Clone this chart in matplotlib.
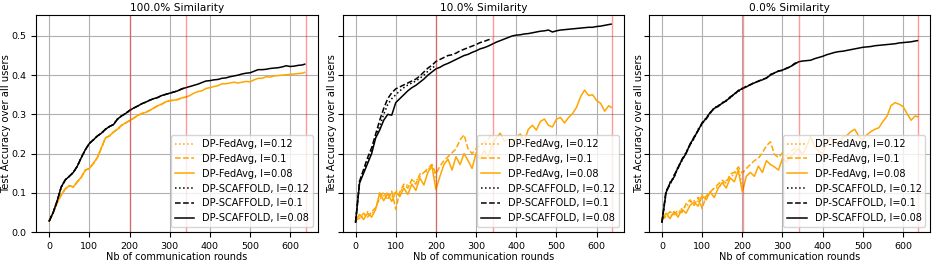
import matplotlib
matplotlib.use("Agg")
import matplotlib.pyplot as plt

rounds_l008 = list(range(0, 640, 10)) + [636]
rounds_l010 = list(range(0, 341, 10))
rounds_l012 = list(range(0, 201, 10))
budget_ends = [201, 341, 638]

titles = ['100.0% Similarity', '10.0% Similarity', '0.0% Similarity']

# ---- 100% similarity
fa_100_l008 = [0.028, 0.05, 0.075, 0.095, 0.11, 0.118, 0.115, 0.128, 0.14, 0.158,
               0.162, 0.175, 0.19, 0.215, 0.24, 0.245, 0.255, 0.262, 0.272, 0.278,
               0.284, 0.29, 0.297, 0.302, 0.305, 0.31, 0.316, 0.322, 0.326, 0.332,
               0.335, 0.336, 0.338, 0.342, 0.344, 0.348, 0.354, 0.358, 0.36, 0.366,
               0.368, 0.371, 0.373, 0.378, 0.378, 0.38, 0.382, 0.38, 0.382, 0.384,
               0.383, 0.388, 0.392, 0.392, 0.396, 0.395, 0.398, 0.399, 0.4, 0.401,
               0.402, 0.403, 0.404, 0.405, 0.407]
fa_100_l010 = fa_100_l008[:35]
fa_100_l012 = fa_100_l008[:21]
sc_100_l008 = [0.028, 0.05, 0.08, 0.115, 0.133, 0.142, 0.152, 0.168, 0.19, 0.21,
               0.226, 0.235, 0.245, 0.252, 0.262, 0.269, 0.274, 0.288, 0.296, 0.302,
               0.31, 0.316, 0.321, 0.327, 0.331, 0.336, 0.34, 0.343, 0.348, 0.351,
               0.354, 0.357, 0.36, 0.365, 0.368, 0.371, 0.374, 0.377, 0.381, 0.385,
               0.386, 0.388, 0.389, 0.392, 0.393, 0.396, 0.398, 0.4, 0.403, 0.405,
               0.406, 0.41, 0.414, 0.414, 0.415, 0.417, 0.418, 0.419, 0.421, 0.424,
               0.422, 0.423, 0.425, 0.426, 0.428]
sc_100_l010 = sc_100_l008[:35]
sc_100_l012 = sc_100_l008[:21]

# ---- 10% similarity
fa_10_l008 = [0.03, 0.045, 0.032, 0.048, 0.038, 0.058, 0.1, 0.08, 0.098, 0.078,
              0.102, 0.09, 0.112, 0.096, 0.122, 0.106, 0.138, 0.12, 0.152, 0.168,
              0.108, 0.142, 0.172, 0.186, 0.158, 0.192, 0.172, 0.2, 0.182, 0.162,
              0.202, 0.186, 0.208, 0.192, 0.222, 0.24, 0.252, 0.232, 0.236, 0.222,
              0.242, 0.25, 0.232, 0.262, 0.272, 0.26, 0.282, 0.288, 0.272, 0.268,
              0.288, 0.292, 0.278, 0.292, 0.302, 0.318, 0.345, 0.362, 0.348, 0.35,
              0.335, 0.328, 0.308, 0.322, 0.318]
fa_10_l010 = [0.03, 0.035, 0.048, 0.038, 0.052, 0.062, 0.088, 0.102, 0.082, 0.104,
              0.058, 0.102, 0.122, 0.112, 0.134, 0.122, 0.148, 0.152, 0.162, 0.172,
              0.148, 0.168, 0.182, 0.192, 0.202, 0.212, 0.235, 0.248, 0.212, 0.2,
              0.212, 0.222, 0.228, 0.236, 0.25]
fa_10_l012 = [0.03, 0.042, 0.038, 0.052, 0.044, 0.062, 0.084, 0.092, 0.1, 0.088,
              0.106, 0.098, 0.118, 0.12, 0.128, 0.13, 0.142, 0.152, 0.156, 0.175,
              0.13]
sc_10_l008 = [0.025, 0.125, 0.15, 0.175, 0.2, 0.24, 0.26, 0.285, 0.3, 0.298,
              0.33, 0.34, 0.35, 0.36, 0.368, 0.374, 0.382, 0.39, 0.4, 0.408,
              0.416, 0.42, 0.426, 0.43, 0.435, 0.44, 0.445, 0.45, 0.453, 0.458,
              0.462, 0.467, 0.47, 0.474, 0.479, 0.484, 0.488, 0.492, 0.496, 0.5,
              0.502, 0.503, 0.505, 0.506, 0.508, 0.51, 0.512, 0.513, 0.515, 0.51,
              0.513, 0.515, 0.516, 0.517, 0.518, 0.519, 0.52, 0.521, 0.522, 0.522,
              0.524, 0.525, 0.527, 0.529, 0.53]
sc_10_l010 = [0.025, 0.13, 0.16, 0.19, 0.215, 0.25, 0.285, 0.315, 0.34, 0.355,
              0.365, 0.37, 0.375, 0.38, 0.385, 0.39, 0.398, 0.408, 0.418, 0.425,
              0.435, 0.44, 0.445, 0.45, 0.452, 0.456, 0.462, 0.466, 0.47, 0.474,
              0.478, 0.483, 0.486, 0.49, 0.493]
sc_10_l012 = [0.025, 0.13, 0.155, 0.18, 0.21, 0.245, 0.27, 0.3, 0.325, 0.34,
              0.35, 0.36, 0.368, 0.375, 0.38, 0.385, 0.392, 0.4, 0.41, 0.418,
              0.425]

# ---- 0% similarity
fa_0_l008 = [0.03, 0.048, 0.034, 0.052, 0.038, 0.058, 0.048, 0.068, 0.076, 0.066,
             0.092, 0.082, 0.102, 0.088, 0.112, 0.126, 0.112, 0.138, 0.128, 0.158,
             0.102, 0.142, 0.152, 0.142, 0.168, 0.152, 0.182, 0.172, 0.166, 0.158,
             0.188, 0.178, 0.192, 0.202, 0.212, 0.198, 0.218, 0.243, 0.218, 0.206,
             0.2, 0.228, 0.24, 0.228, 0.226, 0.242, 0.246, 0.256, 0.262, 0.244,
             0.235, 0.248, 0.256, 0.262, 0.266, 0.282, 0.295, 0.322, 0.33, 0.326,
             0.32, 0.302, 0.285, 0.296, 0.294]
fa_0_l010 = [0.03, 0.04, 0.052, 0.044, 0.056, 0.05, 0.072, 0.082, 0.068, 0.088,
             0.06, 0.092, 0.102, 0.112, 0.122, 0.132, 0.124, 0.148, 0.152, 0.166,
             0.15, 0.162, 0.172, 0.182, 0.188, 0.202, 0.22, 0.23, 0.198, 0.19,
             0.202, 0.194, 0.206, 0.212, 0.215]
fa_0_l012 = [0.03, 0.042, 0.038, 0.052, 0.044, 0.062, 0.064, 0.077, 0.08, 0.078,
             0.096, 0.088, 0.102, 0.112, 0.114, 0.122, 0.132, 0.142, 0.146, 0.162,
             0.12]
sc_0_l008 = [0.025, 0.1, 0.125, 0.14, 0.165, 0.184, 0.2, 0.225, 0.24, 0.26,
             0.277, 0.29, 0.305, 0.315, 0.322, 0.328, 0.335, 0.343, 0.352, 0.36,
             0.366, 0.37, 0.376, 0.38, 0.385, 0.388, 0.393, 0.4, 0.406, 0.41,
             0.413, 0.417, 0.422, 0.428, 0.434, 0.436, 0.437, 0.438, 0.442, 0.445,
             0.448, 0.452, 0.455, 0.458, 0.46, 0.461, 0.463, 0.465, 0.467, 0.469,
             0.471, 0.472, 0.473, 0.475, 0.476, 0.477, 0.478, 0.479, 0.48, 0.482,
             0.483, 0.484, 0.485, 0.487, 0.488]
sc_0_l010 = [0.025, 0.105, 0.12, 0.145, 0.162, 0.186, 0.202, 0.222, 0.243, 0.258,
             0.279, 0.288, 0.303, 0.316, 0.32, 0.33, 0.334, 0.345, 0.35, 0.361,
             0.365, 0.372, 0.375, 0.382, 0.384, 0.39, 0.392, 0.402, 0.405, 0.411,
             0.412, 0.418, 0.421, 0.43, 0.433]
sc_0_l012 = [0.025, 0.098, 0.127, 0.138, 0.167, 0.182, 0.203, 0.223, 0.238, 0.262,
             0.275, 0.292, 0.303, 0.317, 0.321, 0.329, 0.336, 0.342, 0.353, 0.358,
             0.367]

panels = [
    (fa_100_l012, fa_100_l010, fa_100_l008, sc_100_l012, sc_100_l010, sc_100_l008),
    (fa_10_l012, fa_10_l010, fa_10_l008, sc_10_l012, sc_10_l010, sc_10_l008),
    (fa_0_l012, fa_0_l010, fa_0_l008, sc_0_l012, sc_0_l010, sc_0_l008),
]

plt.rcParams['font.size'] = 7
plt.rcParams['xtick.labelsize'] = 6.8
plt.rcParams['ytick.labelsize'] = 6.8

fig, axes = plt.subplots(1, 3, figsize=(9.34, 2.61), dpi=100, sharey=True)
fig.subplots_adjust(left=0.039, right=0.996, top=0.942, bottom=0.111, wspace=0.09)

for ax, title, series in zip(axes, titles, panels):
    fa12, fa10, fa08, sc12, sc10, sc08 = series
    ax.plot(rounds_l012, fa12, color='orange', ls=':', lw=1.1, label='DP-FedAvg, l=0.12')
    ax.plot(rounds_l010, fa10, color='orange', ls='--', lw=1.1, label='DP-FedAvg, l=0.1')
    ax.plot(rounds_l008, fa08, color='orange', ls='-', lw=1.1, label='DP-FedAvg, l=0.08')
    ax.plot(rounds_l012, sc12, color='black', ls=':', lw=1.1, label='DP-SCAFFOLD, l=0.12')
    ax.plot(rounds_l010, sc10, color='black', ls='--', lw=1.1, label='DP-SCAFFOLD, l=0.1')
    ax.plot(rounds_l008, sc08, color='black', ls='-', lw=1.1, label='DP-SCAFFOLD, l=0.08')
    for xe in budget_ends:
        ax.axvline(xe, color='red', alpha=0.4, lw=1)
    ax.grid(True)
    ax.set_ylim(0, 0.553)
    ax.set_title(title, fontsize=7.6, pad=3)
    ax.set_xlabel('Nb of communication rounds', labelpad=1)
    ax.set_ylabel('Test Accuracy over all users', fontsize=7.2, labelpad=0.5)
    ax.legend(loc='lower right', fontsize=7)

axes[0].set_yticks([0.0, 0.1, 0.2, 0.3, 0.4, 0.5])
plt.savefig('out.png')
